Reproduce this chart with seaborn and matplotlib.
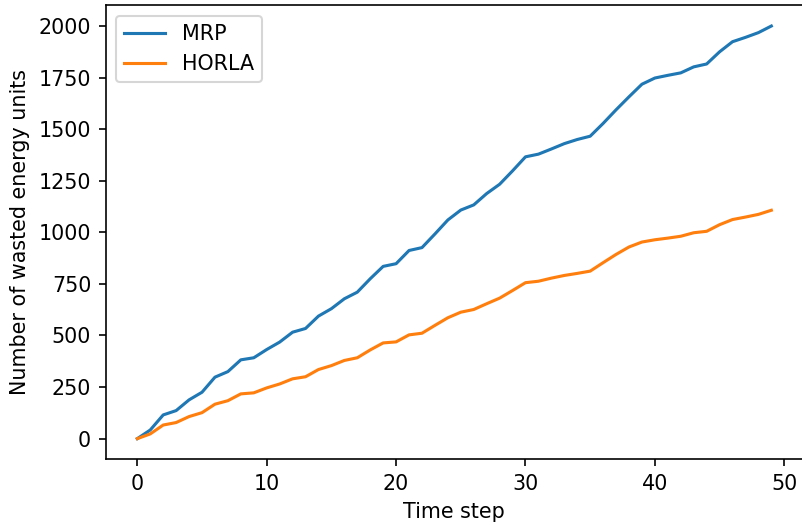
import numpy as np
import pandas as pd
import matplotlib
matplotlib.use("Agg")
import matplotlib.pyplot as plt
import seaborn as sns

time_step = list(range(50))

mrp = [0, 42, 115, 136, 188, 225, 298, 325, 382, 392,
       432, 468, 516, 534, 594, 630, 678, 710, 775, 835,
       848, 912, 926, 992, 1060, 1108, 1133, 1188, 1233, 1298,
       1366, 1379, 1404, 1430, 1450, 1466, 1528, 1594, 1657, 1718,
       1748, 1761, 1773, 1802, 1816, 1875, 1924, 1945, 1968, 2000]

horla = [0, 23, 66, 78, 107, 126, 167, 184, 217, 222,
         246, 265, 290, 300, 335, 354, 379, 392, 430, 464,
         469, 503, 511, 549, 586, 613, 626, 654, 681, 718,
         756, 763, 778, 791, 801, 812, 853, 893, 929, 953,
         964, 972, 981, 998, 1005, 1037, 1062, 1074, 1087, 1107]

df = pd.DataFrame({
    "Time step": time_step * 2,
    "Wasted": mrp + horla,
    "Method": ["MRP"] * len(mrp) + ["HORLA"] * len(horla),
})

DPI = 148.4
fig = plt.figure(figsize=(802 / DPI, 529 / DPI), dpi=DPI)
ax = fig.add_axes([0.1317, 0.1318, 0.8696, 0.858])

sns.lineplot(data=df, x="Time step", y="Wasted", hue="Method",
             palette=["#1f77b4", "#ff7f0e"], linewidth=1.5, ax=ax)

handles, labels = ax.get_legend_handles_labels()
ax.legend(handles=handles, labels=labels, loc="upper left")

ax.set_xlabel("Time step")
ax.set_ylabel("Number of wasted energy units")
ax.set_xticks([0, 10, 20, 30, 40, 50])
ax.set_yticks([0, 250, 500, 750, 1000, 1250, 1500, 1750, 2000])

fig.savefig("out.png", dpi=DPI)
